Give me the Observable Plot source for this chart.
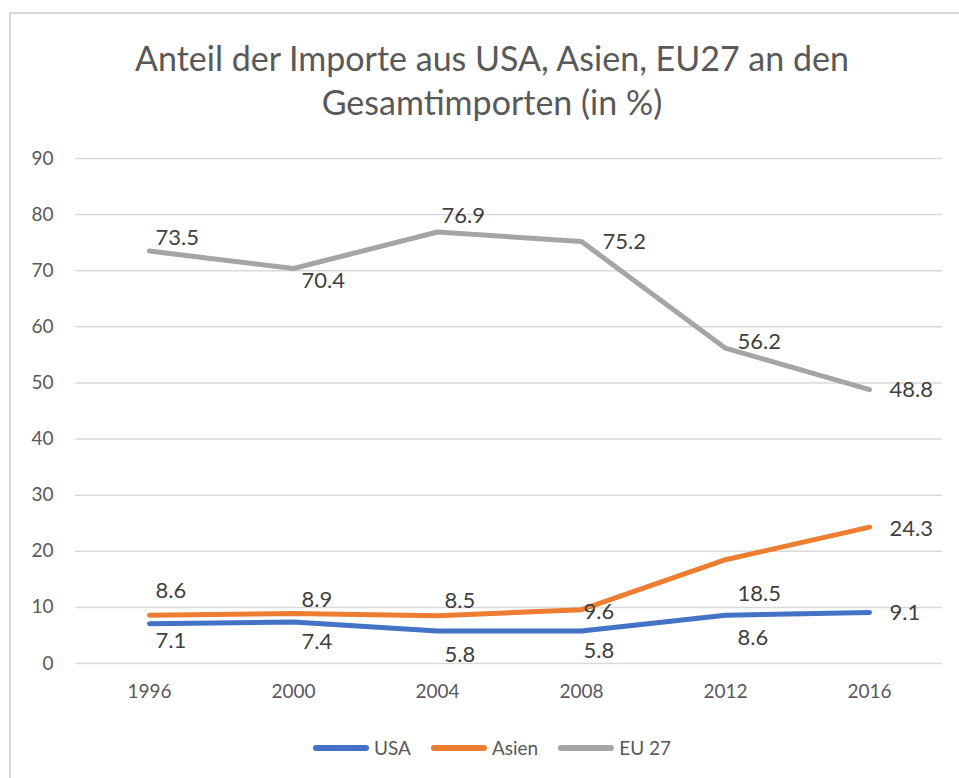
<!DOCTYPE html>
<html>
<head>
<meta charset="utf-8">
<script src="https://cdn.jsdelivr.net/npm/d3@7"></script>
<script src="https://cdn.jsdelivr.net/npm/@observablehq/plot@0.6"></script>
<style>
  html, body { margin: 0; padding: 0; background: #fff; }
  body { width: 959px; height: 778px; position: relative; overflow: hidden; font-family: Lato, "Open Sans", sans-serif; }
  #frame { position: absolute; left: 9px; top: 12px; width: 1000px; height: 900px; border-left: 2px solid #d9d9d9; border-top: 2px solid #d9d9d9; box-sizing: border-box; }
  #title { position: absolute; left: 0; width: 984px; top: 36px; text-align: center; color: #595959; font-size: 34px; line-height: 44px; }
  #chart { position: absolute; left: 0; top: 130px; }
  #legend { position: absolute; left: 0; width: 984px; top: 736px; display: flex; justify-content: center; align-items: center; color: #595959; font-size: 19px; }
  .item { display: flex; align-items: center; margin: 0 10px; }
  .sw { width: 56px; height: 6px; border-radius: 3px; margin-right: 5px; }
</style>
</head>
<body>
<div id="frame"></div>
<div id="title">Anteil der Importe aus USA, Asien, EU27 an den<br>Gesamtimporten (in %)</div>
<div id="chart"></div>
<div id="legend"></div>
<script>
const years = ["1996", "2000", "2004", "2008", "2012", "2016"];
const usa   = [7.1, 7.4, 5.8, 5.8, 8.6, 9.1];
const asien = [8.6, 8.9, 8.5, 9.6, 18.5, 24.3];
const eu27  = [73.5, 70.4, 76.9, 75.2, 56.2, 48.8];
const seriesNames = ["USA", "Asien", "EU 27"];
const yTicks = [0, 10, 20, 30, 40, 50, 60, 70, 80, 90];

const colors = {"USA": "#4472C4", "Asien": "#ED7D31", "EU 27": "#A5A5A5"};
// label nudges (pixels, relative to each point) mimicking Excel's label placement
const nudges = {
  "EU 27": [[6, -13], [8, 12], [4, -16], [21, 0], [12, -6], [20, 0]],
  "Asien": [[6, -24], [8, -14], [7, -15], [2, 2], [12, 34], [20, 2]],
  "USA":   [[6, 17], [8, 20], [7, 24], [2, 20], [12, 23], [20, 1]]
};

const seriesValues = [usa, asien, eu27];
const rows = [];
seriesNames.forEach((s, i) => {
  years.forEach((y, j) => rows.push({series: s, year: y, value: seriesValues[i][j], idx: j}));
});

const labelMarks = [];
rows.forEach(r => {
  const [dx, dy] = nudges[r.series][r.idx];
  labelMarks.push(Plot.text([r], {
    x: "year", y: "value", text: d => d.value.toFixed(1),
    dx, dy, textAnchor: "start", lineAnchor: "middle",
    fill: "#404040", fontSize: 22
  }));
});

const chart = Plot.plot({
  width: 959,
  height: 590,
  marginTop: 28,
  marginBottom: 57,
  marginLeft: 75,
  marginRight: 17,
  style: {fontFamily: "Lato, 'Open Sans', sans-serif", background: "transparent"},
  x: {type: "point", domain: years, padding: 0.5, label: null},
  y: {domain: [0, 90], ticks: yTicks, label: null},
  marks: [
    Plot.gridY(yTicks, {stroke: "#d9d9d9", strokeWidth: 1.5, strokeOpacity: 1}),
    Plot.axisY(yTicks, {tickSize: 0, tickPadding: 22, fontSize: 19, fill: "#595959", label: null}),
    Plot.axisX({tickSize: 0, tickPadding: 21, fontSize: 19, fill: "#595959", label: null}),
    ...seriesNames.map(s => Plot.line(rows.filter(r => r.series === s), {
      x: "year", y: "value", stroke: colors[s], strokeWidth: 5,
      strokeLinecap: "round", strokeLinejoin: "round"
    })),
    ...labelMarks
  ]
});
document.getElementById("chart").appendChild(chart);

const legend = document.getElementById("legend");
seriesNames.forEach(s => {
  const it = document.createElement("div");
  it.className = "item";
  it.innerHTML = `<div class="sw" style="background:${colors[s]}"></div><span>${s}</span>`;
  legend.appendChild(it);
});
</script>
</body>
</html>
